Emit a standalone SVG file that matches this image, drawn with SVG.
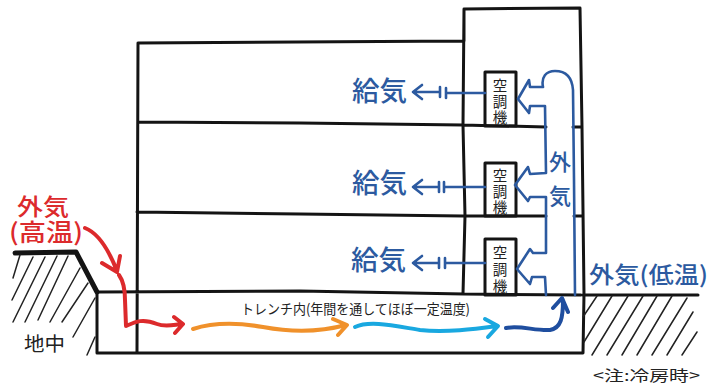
<svg xmlns="http://www.w3.org/2000/svg" width="709" height="386" viewBox="0 0 709 386">
<defs>
<style>
.bk{fill:none;stroke:#141414;stroke-width:3;stroke-linecap:round;stroke-linejoin:round}
.ht{fill:none;stroke:#222;stroke-width:1.5;stroke-linecap:round}
.bl{fill:none;stroke:#2c5aa0;stroke-width:2.6;stroke-linecap:round;stroke-linejoin:round}
.fl{fill:none;stroke-width:4;stroke-linecap:round;stroke-linejoin:round}
text{font-family:"Noto Sans CJK JP","Noto Sans",sans-serif}
.blt{fill:#2c5aa0;font-weight:500}
.redt{fill:#dc2a2c;font-weight:500}
.blk{fill:#222}
.u{font-size:14.5px;fill:#222;text-anchor:middle}
.sup{font-size:27px}
</style>
</defs>
<rect width="709" height="386" fill="#fff"/>
<g id="building">
<path class="bk" d="M138 43L464 41M138 43L137 352M464 41L464 9L580 8L582 127L584 294L583 353L97 353L97 292M138 122L300 123L463 125L546 127M573 127H581M137 212L300 214L463 216L546 216M574 216H583M98 292L300 291L464 294L581 295M464 9L463 125L465 216L463 294"/>
</g>
<g id="ground-left">
<path fill="none" stroke="#141414" stroke-width="5" stroke-linecap="round" stroke-linejoin="round" d="M15 253L76 252L97 292"/>
<path class="ht" d="M20 255L13 278M33 257L12 300M45 257L13 322M57 256L25 322M68 256L38 320M80 268L50 322M88 283L62 322M95 298L73 337M95 337L87 355"/>
<text class="blk" x="24" y="351" font-size="19" textLength="41" lengthAdjust="spacingAndGlyphs">地中</text>
</g>
<g id="ground-right">
<path fill="none" stroke="#141414" stroke-width="3" stroke-linecap="round" d="M583 295H698"/>
<path class="ht" d="M597 296L583 317M612 296L584 342M628 296L592 355M643 296L607 355M657 296L622 355M672 296L637 355M687 298L652 355M693 312L667 355M697 332L682 355"/>
</g>
<g id="unit-1">
<rect class="bk" x="485" y="72" width="31" height="54"/>
<text class="u"><tspan x="500" y="91">空</tspan><tspan x="500" y="107">調</tspan><tspan x="500" y="123">機</tspan></text>
</g>
<g id="unit-2">
<rect class="bk" x="485" y="163" width="31" height="53"/>
<text class="u"><tspan x="500" y="181">空</tspan><tspan x="500" y="197">調</tspan><tspan x="500" y="213">機</tspan></text>
</g>
<g id="unit-3">
<rect class="bk" x="485" y="239" width="31" height="56"/>
<text class="u"><tspan x="500" y="258">空</tspan><tspan x="500" y="275">調</tspan><tspan x="500" y="292">機</tspan></text>
</g>
<g id="connectors">
<path class="bl" d="M575 295L574 180L573 90C572 76 565 71 555 71C546 71 541 77 543 87L530 87L529 80L518 99L529 113L530 106L545 106L546 173L530 174L528 167L515 185L528 201L530 197L546 197L546 253L533 253L530 249L517 269L530 284L532 277L545 277L546 295"/>
<path class="bl" d="M422 85L413 92L422 99M413 92H440M440 87V97M446 88V98M446 93H485"/>
<path class="bl" d="M422 180L413 187L422 194M413 187H439M439 182V192M444 182V192M444 187H485"/>
<path class="bl" d="M422 256L413 263L422 270M413 263H439M439 258V268M445 258V268M445 263H485"/>
<path class="fl" stroke="#dc2a2c" d="M85 228C98 233 108 248 117 271M102 263L117 272L120 256M119 275C124 282 125 290 125 300L126 326C135 322 142 318 157 324C165 327 172 325 182 324M174 317L183 324L175 333"/>
<path class="fl" stroke="#f0912b" d="M193 329C215 322 240 323 263 327C290 332 320 332 346 325M333 319L347 325L338 335"/>
<path class="fl" stroke="#19a8e0" d="M355 327C370 320 395 326 420 330C445 333 475 329 497 326M485 319L498 326L488 337"/>
<path class="fl" stroke="#1f4e9f" stroke-width="4.5" d="M506 328C520 325 535 331 550 330C561 328 563 318 563 300M553 308L562 298L568 312"/>
</g>
<g id="labels">
<text class="blt sup" x="352" y="101" textLength="55" lengthAdjust="spacingAndGlyphs">給気</text>
<text class="blt sup" x="352" y="193" textLength="55" lengthAdjust="spacingAndGlyphs">給気</text>
<text class="blt sup" x="351" y="270" textLength="55" lengthAdjust="spacingAndGlyphs">給気</text>
<text class="blt" x="560" y="170" font-size="22" text-anchor="middle">外</text>
<text class="blt" x="560" y="204" font-size="22" text-anchor="middle">気</text>
<text class="blt" x="589" y="283" font-size="23" textLength="119" lengthAdjust="spacingAndGlyphs">外気(低温)</text>
<text class="redt" x="17" y="215" font-size="23" textLength="52" lengthAdjust="spacingAndGlyphs">外気</text>
<text class="redt" x="9" y="241" font-size="24" textLength="74" lengthAdjust="spacingAndGlyphs">(高温)</text>
<text class="blk" x="241" y="314" font-size="14" textLength="229" lengthAdjust="spacingAndGlyphs">トレンチ内(年間を通してほぼ一定温度)</text>
<text class="blk" x="593" y="381" font-size="15" textLength="107" lengthAdjust="spacingAndGlyphs">&lt;注:冷房時&gt;</text>
</g>
</svg>
